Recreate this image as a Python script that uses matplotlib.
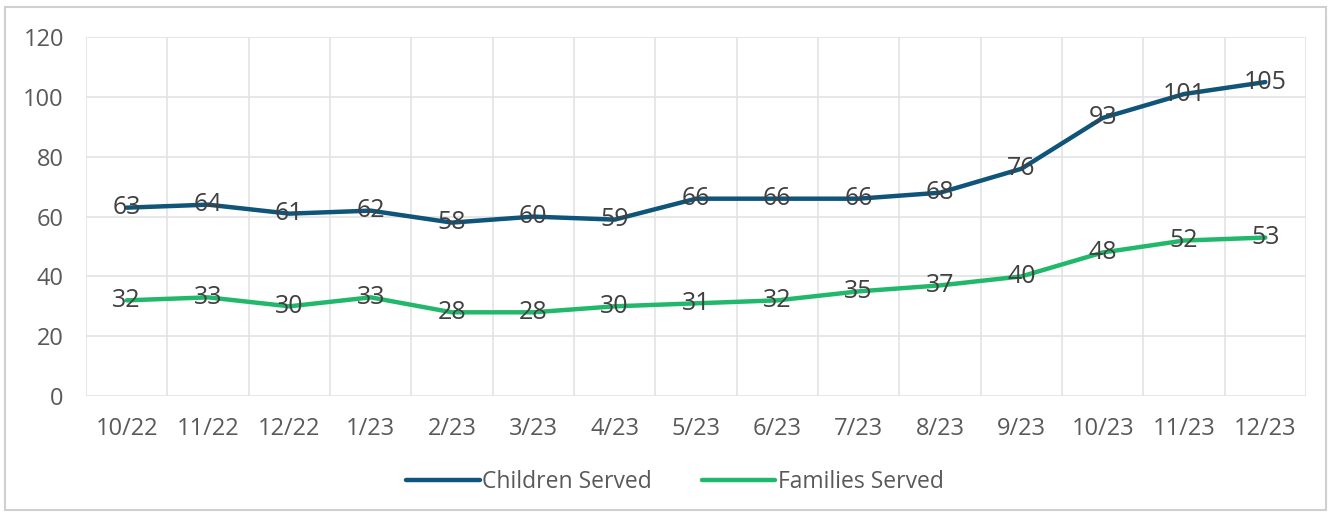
import matplotlib.pyplot as plt
from matplotlib.patches import Rectangle

# data
months = ['10/22', '11/22', '12/22', '1/23', '2/23', '3/23', '4/23', '5/23',
          '6/23', '7/23', '8/23', '9/23', '10/23', '11/23', '12/23']
children = [63, 64, 61, 62, 58, 60, 59, 66, 66, 66, 68, 76, 93, 101, 105]
families = [32, 33, 30, 33, 28, 28, 30, 31, 32, 35, 37, 40, 48, 52, 53]

plt.rcParams['font.family'] = ['Open Sans', 'DejaVu Sans']
txt = '#595959'

fig = plt.figure(figsize=(13.34, 5.17), dpi=100)
ax = fig.add_axes([0.0645, 0.234, 0.9145, 0.694])

x = list(range(len(months)))
ax.plot(x, children, color='#0f5479', lw=3.2, solid_joinstyle='round',
        solid_capstyle='round', label='Children Served', zorder=3)
ax.plot(x, families, color='#22b86c', lw=3.2, solid_joinstyle='round',
        solid_capstyle='round', label='Families Served', zorder=3)

# data labels centred on the points
for xi, v in zip(x, children):
    ax.text(xi, v, str(v), ha='center', va='center', fontsize=18, color='#404040', zorder=4)
for xi, v in zip(x, families):
    ax.text(xi, v, str(v), ha='center', va='center', fontsize=18, color='#404040', zorder=4)

ax.set_xlim(-0.5, len(months) - 0.5)
ax.set_ylim(0, 120)
ax.set_yticks(range(0, 121, 20))
ax.set_xticks(x)
ax.set_xticklabels(months)
ax.set_xticks([i - 0.5 for i in range(len(months) + 1)] + x, minor=True)
ax.grid(True, which='minor', axis='x', color='#e3e3e3', lw=1.2)
ax.grid(True, which='major', axis='y', color='#e3e3e3', lw=1.2)
ax.set_axisbelow(True)
for s in ax.spines.values():
    s.set_visible(False)
ax.tick_params(axis='both', which='both', length=0, labelsize=17, labelcolor=txt)
ax.tick_params(axis='x', pad=15)
ax.tick_params(axis='y', pad=16)

fig.legend(loc='center', bbox_to_anchor=(0.506, 0.068), ncol=2, frameon=False,
           fontsize=16.5, labelcolor=txt, handlelength=3.2, handletextpad=0.1,
           columnspacing=2.2)

# outer chart border
fig.patches.append(Rectangle((5 / 1334, 7 / 517), 1321 / 1334, 503 / 517,
                             transform=fig.transFigure, fill=False,
                             edgecolor='#d0d0d0', lw=1.5))

fig.savefig('out.png', dpi=100, facecolor='white')
